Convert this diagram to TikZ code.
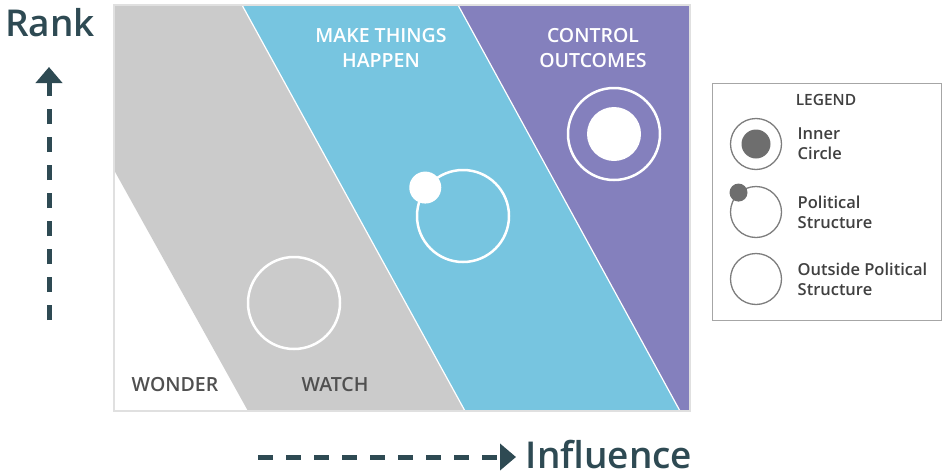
\documentclass[tikz,border=0pt]{standalone}
\usepackage{fontspec}
\IfFontExistsTF{Open Sans SemiBold}
  {\setmainfont{Open Sans SemiBold}}
  {\IfFontExistsTF{Open Sans Semibold}
     {\setmainfont{Open Sans Semibold}}
     {\setmainfont{Open Sans}}}
\usepackage{tikz}
\usetikzlibrary{positioning,arrows.meta}

\definecolor{watchgray}{HTML}{CBCBCB}
\definecolor{makeblue}{HTML}{77C5E0}
\definecolor{ctrlpurple}{HTML}{8480BD}
\definecolor{axisteal}{HTML}{2E4A53}
\definecolor{labelgray}{HTML}{505050}
\definecolor{keygray}{HTML}{6E6E6E}

\begin{document}
\begin{tikzpicture}[x=1pt, y=-1pt,
  zone/.style={text=white, align=center, font=\fontsize{19.5}{25}\selectfont},
  tag/.style={text=labelgray, anchor=base, font=\fontsize{19.5}{22}\selectfont},
  axislabel/.style={text=axisteal, anchor=base, inner sep=0pt, font=\fontsize{37}{40}\selectfont},
  axis/.style={-{Triangle[length=16pt,width=26pt]}, line width=5pt,
               draw=axisteal, dash pattern=on 15pt off 13pt},
  ring/.style={circle, draw=white, line width=2.5pt, minimum size=92pt, inner sep=0pt},
  core/.style={circle, fill=white, minimum size=#1, inner sep=0pt},
  keyring/.style={circle, draw=keygray!90, line width=1.3pt, minimum size=51pt, inner sep=0pt},
  keydot/.style={circle, fill=keygray, minimum size=#1, inner sep=0pt},
  keytext/.style={text=black!75, align=left, font=\fontsize{16.5}{20}\selectfont},
]
\useasboundingbox (0,0) rectangle (945,474);

% the three slanted bands
\fill[white] (114,5) rectangle (690,411);
\fill[watchgray]  (114,5) -- (242,5) -- (465,411) -- (248,411) -- (114,170) -- cycle;
\fill[makeblue]   (242,5) -- (458,5) -- (680,411) -- (465,411) -- cycle;
\fill[ctrlpurple] (458,5) -- (690,5) -- (690,411) -- (680,411) -- cycle;
\draw[white, line width=1.2pt] (242,5) -- (465,411) (458,5) -- (680,411);
\draw[black!12, line width=1.5pt] (114,5) rectangle (690,411);

\node[zone] (makeit)  at (381,48) {MAKE THINGS\\HAPPEN};
\node[zone] (control) at (593,48) {CONTROL\\OUTCOMES};
\node[tag]  (wonder)  at (175,391) {WONDER};
\node[tag]  (watch)   at (335,391) {WATCH};

% circles in the bands
\node[ring] (outside)   at (294,303) {};
\node[ring] (political) at (463,216) {};
\node[core=32pt] (polidot) at (political.143) {};
\node[ring] (inner)     at (614,134) {};
\node[core=54pt] (innercore) at (inner) {};

% axes
\node[axislabel] (rank) at (50,36) {Rank};
\coordinate (rankfoot) at (49,320);
\coordinate (ranktop)  at (49,67);
\draw[axis] (rankfoot) -- (ranktop);

\node[axislabel] (influence) at (609,468) {Influence};
\coordinate (inflstart) at (258,457);
\coordinate (inflend)   at (516,457);
\draw[axis] (inflstart) -- (inflend);

% legend
\node[draw=black!35, line width=1pt, minimum width=229pt, minimum height=237pt,
      inner sep=0pt] (legend) at (826.5,201.5) {};
\node[text=black!75, font=\fontsize{15.5}{17}\selectfont] (legendtitle) at (826,100) {LEGEND};

\node[keyring] (keyinner) at (756,144) {};
\node[keydot=29pt] (keyinnerdot) at (keyinner) {};
\node[keytext, right=12pt of keyinner] (innertext) {Inner\\Circle};

\node[keyring] (keypol) at (756,212) {};
\node[keydot=18pt] (keypoldot) at (keypol.132) {};
\node[keytext, right=12pt of keypol] (poltext) {Political\\Structure};

\node[keyring] (keyout) at (756,279) {};
\node[keytext, right=12pt of keyout] (outtext) {Outside Political\\Structure};
\end{tikzpicture}
\end{document}
